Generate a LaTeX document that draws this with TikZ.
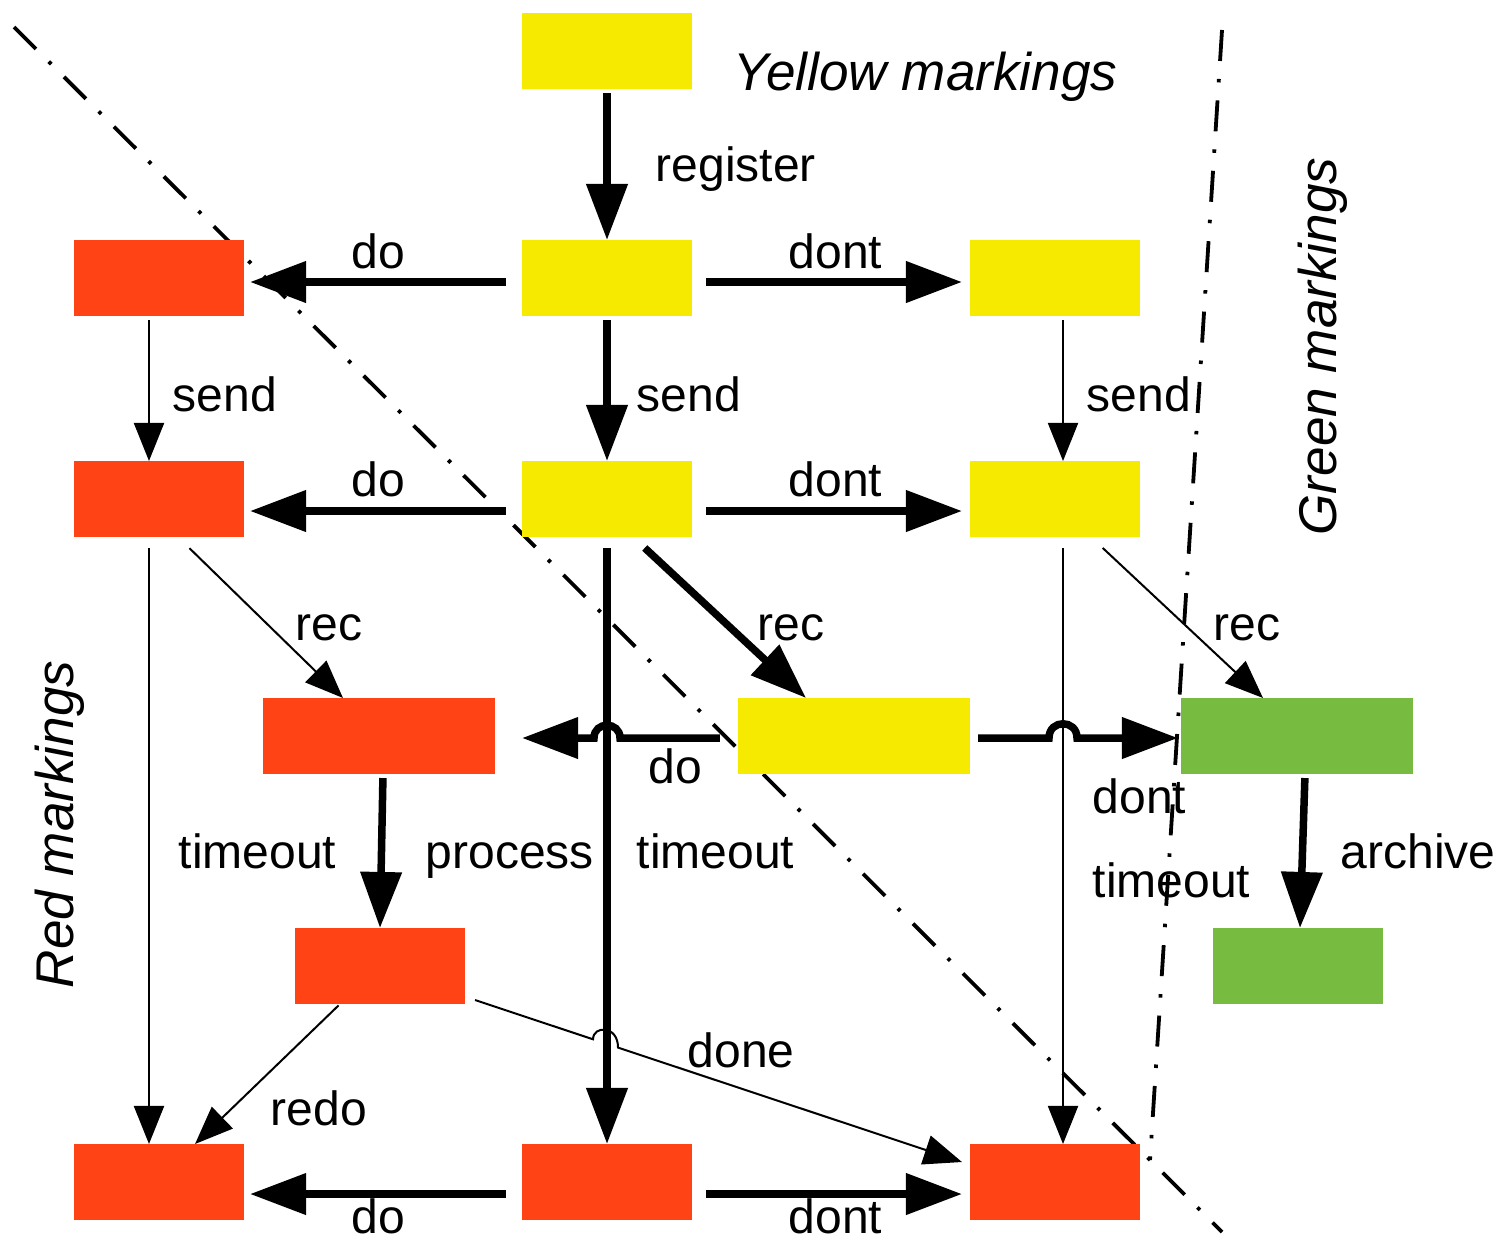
\documentclass[tikz,border=0pt]{standalone}
\usepackage{fontspec}
\setmainfont{Liberation Sans}
\usetikzlibrary{arrows.meta,calc}
\definecolor{myyellow}{RGB}{245,234,0}
\definecolor{myred}{RGB}{255,67,21}
\definecolor{mygreen}{RGB}{119,187,65}
\begin{document}
\begin{tikzpicture}[x=0.01cm,y=-0.01cm,
  bx/.style={inner sep=0,outer sep=0,minimum width=1.70cm,minimum height=0.76cm},
  wbx/.style={bx,minimum width=2.32cm},
  ybx/.style={bx,fill=myyellow},
  rbx/.style={bx,fill=myred},
  gbx/.style={bx,fill=mygreen},
  thk/.style={line width=0.075cm,-{Triangle[length=0.56cm,width=0.40cm]}},
  thn/.style={line width=0.02cm,-{Triangle[length=0.38cm,width=0.30cm]}},
  lbl/.style={anchor=base west,inner sep=0,font=\fontsize{13.66pt}{16pt}\selectfont},
  mklbl/.style={anchor=base west,inner sep=0,font=\fontsize{15.1pt}{17pt}\selectfont\itshape},
  sepline/.style={line width=0.038cm,dash pattern=on 0.31cm off 0.18cm on 0.035cm off 0.18cm}
]
\useasboundingbox (0,0) rectangle (1498,1242);
% separator lines
\coordinate (c1) at (14,27);
\coordinate (c2) at (1150,1160);
\coordinate (c3) at (1222,1232);
\coordinate (c4) at (1222,30);
\draw[sepline] (c1) -- (c2) -- (c3);
\draw[sepline] (c4) -- (c2);
% boxes
\node[ybx] (y0) at (607,51) {};
\node[rbx] (r1) at (159,278) {};
\node[ybx] (y1) at (607,278) {};
\node[ybx] (y1r) at (1055,278) {};
\node[rbx] (r2) at (159,499) {};
\node[ybx] (y2) at (607,499) {};
\node[ybx] (y2r) at (1055,499) {};
\node[rbx,wbx] (r3) at (379,736) {};
\node[ybx,wbx] (y3) at (854,736) {};
\node[gbx,wbx] (g3) at (1297,736) {};
\node[rbx] (r4) at (380,966) {};
\node[gbx] (g4) at (1298,966) {};
\node[rbx] (r5) at (159,1182) {};
\node[rbx] (r5m) at (607,1182) {};
\node[rbx] (r5r) at (1055,1182) {};
% connectors
\draw[thk,shorten <=0.04cm] (y0.south) -- (y1.north);
\draw[thk,shorten <=0.16cm,shorten >=0.06cm] ([yshift=-0.04cm]y1.west) -- ([yshift=-0.04cm]r1.east);
\draw[thk,shorten <=0.14cm,shorten >=0.08cm] ([yshift=-0.04cm]y1.east) -- ([yshift=-0.04cm]y1r.west);
\draw[thn,shorten <=0.04cm] ([xshift=-0.1cm]r1.south) -- ([xshift=-0.1cm]r2.north);
\draw[thk,shorten <=0.04cm] (y1.south) -- (y2.north);
\draw[thn,shorten <=0.04cm] ([xshift=0.08cm]y1r.south) -- ([xshift=0.08cm]y2r.north);
\draw[thk,shorten <=0.16cm,shorten >=0.06cm] ([yshift=-0.12cm]y2.west) -- ([yshift=-0.12cm]r2.east);
\draw[thk,shorten <=0.14cm,shorten >=0.08cm] ([yshift=-0.12cm]y2.east) -- ([yshift=-0.12cm]y2r.west);
\draw[thn,shorten <=0.16cm] ([xshift=0.19cm]r2.south) -- ([xshift=-0.36cm]r3.north);
\draw[thk,shorten <=0.16cm] ([xshift=0.26cm]y2.south) -- ([xshift=-0.48cm]y3.north);
\draw[thn,shorten <=0.16cm] ([xshift=0.36cm]y2r.south) -- ([xshift=-0.34cm]g3.north);
\draw[thn,shorten <=0.11cm] ([xshift=-0.1cm]r2.south) -- ([xshift=-0.1cm]r5.north);
\draw[thk,shorten <=0.11cm] (y2.south) -- (r5m.north);
\draw[thn,shorten <=0.11cm] ([xshift=0.08cm]y2r.south) -- ([xshift=0.08cm]r5r.north);
\coordinate (h1) at ([yshift=-0.02cm]y2.south |- y3.west);
\draw[thk] ([shift={(-0.18cm,-0.02cm)}]y3.west) -- ([xshift=0.13cm]h1) .. controls +(0,0.17cm) and +(0,0.17cm) .. ([xshift=-0.13cm]h1) -- ([shift={(0.27cm,-0.02cm)}]r3.east);
\coordinate (h2) at ([shift={(0.08cm,-0.02cm)}]y2r.south |- y3.east);
\draw[thk] ([shift={(0.08cm,-0.02cm)}]y3.east) -- ([xshift=-0.14cm]h2) .. controls +(0,0.19cm) and +(0,0.19cm) .. ([xshift=0.14cm]h2) -- ([shift={(-0.03cm,-0.02cm)}]g3.west);
\draw[thk,shorten <=0.04cm] ([xshift=0.04cm]r3.south) -- (r4.north);
\draw[thk,shorten <=0.04cm] ([xshift=0.08cm]g3.south) -- ([xshift=0.02cm]g4.north);
\coordinate (da) at ([shift={(0.10cm,0.04cm)}]r4.south east);
\coordinate (db) at ([shift={(-0.08cm,0.20cm)}]r5r.west);
\draw[thn] (da) -- ($(da)!0.2423!(db)$) .. controls +(0,0.14cm) and +(0,0.226cm) .. ($(da)!0.2936!(db)$) -- (db);
\draw[thn,shorten <=0.02cm] ([xshift=-0.40cm]r4.south) -- ([xshift=0.36cm]r5.north);
\draw[thk,shorten <=0.16cm,shorten >=0.06cm] ([yshift=-0.12cm]r5m.west) -- ([yshift=-0.12cm]r5.east);
\draw[thk,shorten <=0.14cm,shorten >=0.08cm] ([yshift=-0.12cm]r5m.east) -- ([yshift=-0.12cm]r5r.west);
% labels
\node[lbl] (lreg) at (655,181) {register};
\node[lbl] (ldo1) at (351,268) {do};
\node[lbl] (ldont1) at (788,268) {dont};
\node[lbl] (lsend1) at (172,411) {send};
\node[lbl] (lsend2) at (636,411) {send};
\node[lbl] (lsend3) at (1086,411) {send};
\node[lbl] (ldo2) at (351,496) {do};
\node[lbl] (ldont2) at (788,496) {dont};
\node[lbl] (lrec1) at (295,640) {rec};
\node[lbl] (lrec2) at (757,640) {rec};
\node[lbl] (lrec3) at (1213,640) {rec};
\node[lbl] (ldo3) at (648,783) {do};
\node[lbl] (ldont3) at (1092,813) {dont};
\node[lbl] (lto1) at (178,868) {timeout};
\node[lbl] (lproc) at (425,868) {process};
\node[lbl] (lto2) at (636,868) {timeout};
\node[lbl] (larch) at (1340,868) {archive};
\node[lbl] (lto3) at (1092,897) {timeout};
\node[lbl] (ldone) at (687,1067) {done};
\node[lbl] (lredo) at (270,1125) {redo};
\node[lbl] (ldo4) at (351,1233) {do};
\node[lbl] (ldont4) at (788,1233) {dont};
\node[mklbl] (mky) at (733,90) {Yellow markings};
\node[mklbl,rotate=90] (mkg) at (1336,536) {Green markings};
\node[mklbl,rotate=90] (mkr) at (73,989) {Red markings};
\end{tikzpicture}
\end{document}
